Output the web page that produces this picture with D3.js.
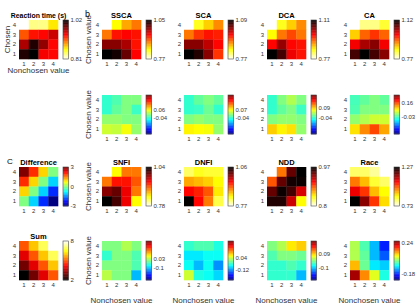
<!DOCTYPE html>
<html>
<head>
<meta charset="utf-8">
<script src="https://cdn.jsdelivr.net/npm/d3@7"></script>
<style>
  body { margin: 0; background: #fff; }
  svg { display: block; font-family: "Liberation Sans", Arial, sans-serif; }
</style>
</head>
<body>
<div id="chart"></div>
<script>
// axes: rows are chosen value (4 on top), columns are nonchosen value
const chosen = [4, 3, 2, 1];
const nonchosen = [1, 2, 3, 4];

// panel a / c
const reactionTime = [
  [0.81, 0.835, 0.835, 0.869],
  [0.915, 0.936, 0.94, 0.957],
  [0.967, 1.01, 0.975, 0.94],
  [1.01, 1.02, 0.944, 0.94]
];
const difference = [
  [3, 2, 1, 0],
  [2, 1, 0, -1],
  [1, 0, -1, -2],
  [0, -1, -2, -3]
];
const sum = [
  [5, 6, 7, 8],
  [4, 5, 6, 7],
  [3, 4, 5, 6],
  [2, 3, 4, 5]
];

// panel b, model predictions
const ssca = [
  [0.77, 0.84, 0.876, 0.896],
  [0.896, 0.938, 0.944, 0.938],
  [0.994, 0.994, 0.98, 0.938],
  [1.05, 1.042, 1.008, 0.944]
];
const sca = [
  [0.77, 0.84, 0.872, 0.904],
  [0.914, 0.946, 0.962, 0.956],
  [1.026, 1.026, 1.0, 0.968],
  [1.09, 1.074, 1.026, 0.946]
];
const dca = [
  [0.77, 0.845, 0.879, 0.913],
  [0.855, 0.923, 0.947, 0.923],
  [0.981, 1.035, 0.981, 0.974],
  [1.11, 1.076, 0.991, 0.974]
];
const ca = [
  [0.77, 0.812, 0.812, 0.84],
  [0.882, 0.938, 0.963, 0.938],
  [0.994, 1.033, 1.05, 0.994],
  [1.085, 1.12, 1.085, 1.05]
];
const snfi = [
  [0.78, 0.845, 0.897, 0.897],
  [0.897, 0.936, 0.936, 0.91],
  [0.988, 1.001, 0.949, 0.897],
  [1.04, 1.014, 0.949, 0.845]
];
const dnfi = [
  [0.814, 0.834, 0.828, 0.828],
  [0.88, 0.872, 0.863, 0.843],
  [0.95, 0.938, 0.915, 0.851],
  [1.06, 0.95, 0.9, 0.822]
];
const ndd = [
  [0.8, 0.877, 0.945, 0.97],
  [0.885, 0.945, 0.965, 0.967],
  [0.945, 0.967, 0.953, 0.916],
  [0.962, 0.962, 0.919, 0.843]
];
const race = [
  [0.811, 0.811, 0.784, 0.73],
  [0.973, 0.919, 0.838, 0.811],
  [1.081, 1.027, 0.919, 0.865],
  [1.27, 1.162, 1.027, 0.892]
];

// model minus data
const sscaDiff = [
  [-0.04, -0.025, 0, 0],
  [-0.04, -0.015, 0, -0.035],
  [0.01, 0.01, 0, 0],
  [0.04, 0.035, 0.06, 0.01]
];
const scaDiff = [
  [-0.04, -0.015, 0, -0.015],
  [-0.04, -0.035, -0.01, -0.04],
  [0, 0.01, 0, 0],
  [0.07, 0.065, 0.06, 0.01]
];
const dcaDiff = [
  [-0.04, 0, 0.025, 0],
  [-0.04, -0.015, 0, -0.035],
  [0, 0.01, 0.01, 0],
  [0.09, 0.07, 0.08, 0.01]
];
const caDiff = [
  [-0.03, -0.015, 0, -0.015],
  [-0.025, 0, 0, 0],
  [0.01, 0.025, 0.04, 0.04],
  [0.08, 0.125, 0.16, 0.11]
];
const snfiDiff = [
  [0, 0, 0.025, 0],
  [-0.04, 0, 0, -0.025],
  [0, 0, 0, -0.025],
  [0.03, 0, 0, -0.1]
];
const dnfiDiff = [
  [-0.04, -0.025, -0.025, -0.05],
  [-0.075, -0.075, -0.06, -0.06],
  [-0.06, -0.1, -0.06, -0.12],
  [0.04, -0.05, -0.06, -0.085]
];
const nddDiff = [
  [0, 0.025, 0.075, 0.09],
  [-0.025, 0, 0, -0.01],
  [-0.04, -0.04, -0.025, -0.04],
  [-0.04, -0.04, -0.04, -0.1]
];
const raceDiff = [
  [0.025, -0.025, -0.1, -0.18],
  [0.025, -0.015, -0.1, -0.15],
  [0.1, -0.01, -0.075, -0.09],
  [0.24, 0.125, 0.05, -0.05]
];

// colorbar tick labels (top, bottom)
const rtTicks = [1.02, 0.81];
const diffTicks = [3, 0, -3];
const sumTicks = [8, 2];
const modelTicks = {
  SSCA: [1.05, 0.77], SCA: [1.09, 0.77], DCA: [1.11, 0.77], CA: [1.12, 0.77],
  SNFI: [1.04, 0.78], DNFI: [1.06, 0.77], NDD: [0.97, 0.8], Race: [1.27, 0.73]
};
const residTicks = [
  [0.06, -0.04], [0.07, -0.04], [0.09, -0.04], [0.16, -0.03],
  [0.03, -0.1], [0.04, -0.12], [0.09, -0.1], [0.24, -0.18]
];
const residRange = [-0.26, 0.26];

// ---- colormaps (matlab-like) ----
const clamp = v => Math.max(0, Math.min(1, v));
function hot(t) {
  const r = clamp(t / 0.375), g = clamp((t - 0.375) / 0.375), b = clamp((t - 0.75) / 0.25);
  return d3.rgb(r * 255, g * 255, b * 255).toString();
}
function jet(t) {
  const r = clamp(1.5 - Math.abs(4 * t - 3));
  const g = clamp(1.5 - Math.abs(4 * t - 2));
  const b = clamp(1.5 - Math.abs(4 * t - 1));
  return d3.rgb(r * 255, g * 255, b * 255).toString();
}

// ---- layout ----
const W = 420, H = 305;
const colX = [19, 102, 184, 267, 350];
const rowY = [20, 95, 167, 241];
const size = 39;

const svg = d3.select("#chart").append("svg")
  .attr("width", W).attr("height", H);

const panels = [
  { title: "Reaction time (s)", values: reactionTime, col: 0, row: 0, cmap: "hotr", domain: [0.81, 1.02], ticks: rtTicks, fs: 6.9 },
  { title: "Difference", values: difference, col: 0, row: 2, cmap: "jet", domain: [-3, 3], ticks: diffTicks },
  { title: "Sum", values: sum, col: 0, row: 3, cmap: "hot", domain: [2, 8], ticks: sumTicks }
];
const models = [
  ["SSCA", ssca, sscaDiff], ["SCA", sca, scaDiff], ["DCA", dca, dcaDiff], ["CA", ca, caDiff],
  ["SNFI", snfi, snfiDiff], ["DNFI", dnfi, dnfiDiff], ["NDD", ndd, nddDiff], ["Race", race, raceDiff]
];
models.forEach(([name, vals, resid], i) => {
  const col = 1 + (i % 4), row = i < 4 ? 0 : 2;
  const t = modelTicks[name];
  panels.push({ title: name, values: vals, col, row, cmap: "hotr", domain: [t[1], t[0]], ticks: t });
  panels.push({ title: "", values: resid, col, row: row + 1, cmap: "jet", domain: residRange, ticks: residTicks[i] });
});

function colorFn(p) {
  const s = d3.scaleLinear().domain(p.domain).range([0, 1]).clamp(true);
  if (p.cmap === "hotr") return v => hot(1 - s(v));
  if (p.cmap === "hot") return v => hot(s(v));
  return v => jet(s(v));
}

panels.forEach(p => {
  const gx = colX[p.col], gy = rowY[p.row];
  const x = d3.scaleBand().domain(nonchosen).range([gx, gx + size]);
  const y = d3.scaleBand().domain(chosen).range([gy, gy + size]);
  const color = colorFn(p);
  const g = svg.append("g");

  const cells = p.values.flatMap((r, i) => r.map((v, j) => ({ c: chosen[i], n: nonchosen[j], v })));
  g.selectAll("rect.cell")
    .data(cells)
    .join("rect")
    .attr("class", "cell")
    .attr("x", d => x(d.n))
    .attr("y", d => y(d.c))
    .attr("width", x.bandwidth() + 0.3)
    .attr("height", y.bandwidth() + 0.3)
    .attr("fill", d => color(d.v));

  // tick labels
  const ax = g.append("g")
    .attr("transform", `translate(0,${gy + size})`)
    .call(d3.axisBottom(x).tickSize(0).tickPadding(3));
  const ay = g.append("g")
    .attr("transform", `translate(${gx},0)`)
    .call(d3.axisLeft(y).tickSize(0).tickPadding(3));
  [ax, ay].forEach(a => {
    a.select(".domain").remove();
    a.selectAll("text").attr("font-size", 6).attr("fill", "#333")
      .style("font-family", "Liberation Sans, Arial, sans-serif");
  });

  if (p.title) {
    g.append("text")
      .attr("x", gx + size / 2).attr("y", gy - 2.5)
      .attr("text-anchor", "middle")
      .attr("font-size", p.fs || 7.5).attr("font-weight", "bold")
      .text(p.title);
  }

  // colorbar
  const cbx = gx + 44, cbw = 5.5;
  const cy = d3.scaleLinear().domain(p.domain).range([gy + size, gy]);
  const steps = d3.range(0, 64);
  const stepH = size / 64;
  g.selectAll("rect.cb")
    .data(steps)
    .join("rect")
    .attr("class", "cb")
    .attr("x", cbx)
    .attr("y", i => gy + size - (i + 1) * stepH)
    .attr("width", cbw)
    .attr("height", stepH + 0.3)
    .attr("fill", i => color(cy.invert(gy + size - (i + 0.5) * stepH)));
  g.append("rect")
    .attr("x", cbx).attr("y", gy)
    .attr("width", cbw).attr("height", size)
    .attr("fill", "none").attr("stroke", "#444").attr("stroke-width", 0.6);
  const cax = g.append("g")
    .attr("transform", `translate(${cbx + cbw},0)`)
    .call(d3.axisRight(cy).tickValues(p.ticks).tickSize(0).tickPadding(2).tickFormat(d => String(d)));
  cax.select(".domain").remove();
  cax.selectAll("text").attr("font-size", 6).attr("fill", "#333")
    .style("font-family", "Liberation Sans, Arial, sans-serif");
});

// axis titles
const label = (x, y, txt, rot) => svg.append("text")
  .attr("transform", `translate(${x},${y})` + (rot ? " rotate(-90)" : ""))
  .attr("text-anchor", "middle")
  .attr("font-size", 8).attr("fill", "#333")
  .text(txt);

label(10, rowY[0] + size / 2, "Chosen", true);
label(colX[0] + size / 2, 73, "Nonchosen value", false);
rowY.forEach(ry => label(91, ry + size / 2, "Chosen value", true));
colX.slice(1).forEach(cx => label(cx + size / 2, 303, "Nonchosen value", false));

// panel letters
svg.append("text").attr("x", 85).attr("y", 17).attr("font-size", 9).text("b");
svg.append("text").attr("x", 7).attr("y", 164).attr("font-size", 8).text("C");
</script>
</body>
</html>
